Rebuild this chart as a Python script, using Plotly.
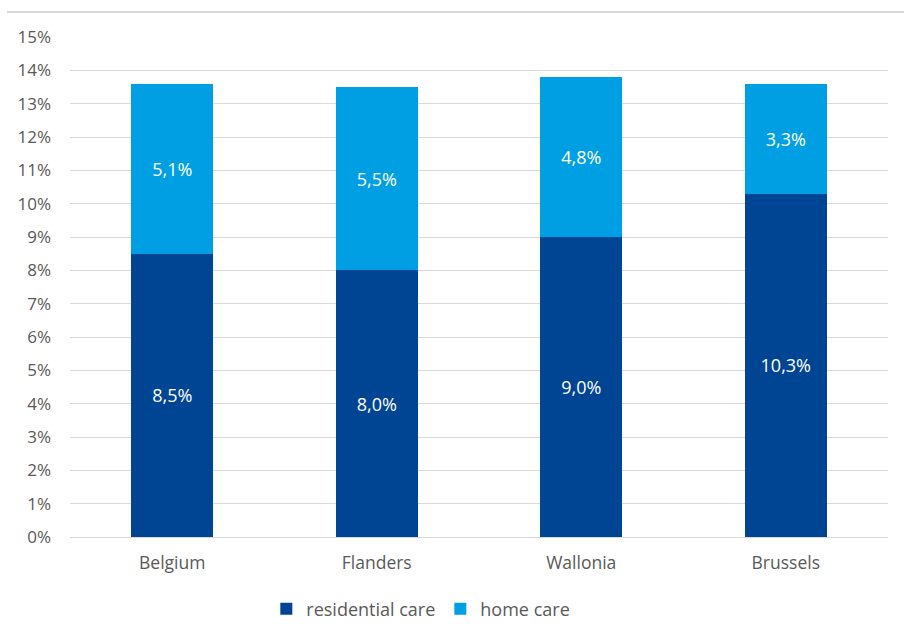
import plotly.graph_objects as go

regions = ["Belgium", "Flanders", "Wallonia", "Brussels"]
residential_care = [8.5, 8.0, 9.0, 10.3]
home_care = [5.1, 5.5, 4.8, 3.3]
y_ticks = list(range(0, 16))
y_tick_labels = [f"{t}%" for t in y_ticks]

def fmt(v):
    return f"{v:.1f}%".replace(".", ",")

FONT = "Open Sans, Liberation Sans, sans-serif"
GRAY = "#595959"

fig = go.Figure()
fig.add_bar(
    x=regions, y=residential_care, name="residential care",
    marker=dict(color="#004494", line=dict(width=0)),
    text=[fmt(v) for v in residential_care], textposition="inside",
    insidetextanchor="middle", textfont=dict(color="white", size=18, family=FONT),
)
fig.add_bar(
    x=regions, y=home_care, name="home care",
    marker=dict(color="#009FE3", line=dict(width=0)),
    text=[fmt(v) for v in home_care], textposition="inside",
    insidetextanchor="middle", textfont=dict(color="white", size=18, family=FONT),
)

fig.update_layout(
    barmode="stack",
    bargap=0.6,
    width=904, height=636,
    margin=dict(l=70, r=16, t=37, b=99, autoexpand=False),
    paper_bgcolor="white", plot_bgcolor="white",
    font=dict(family=FONT, color=GRAY, size=16),
    legend=dict(
        orientation="h", x=0.24, xanchor="left", y=-0.144, yanchor="middle",
        font=dict(size=18, color=GRAY, family=FONT), traceorder="normal",
        itemwidth=30,
    ),
    xaxis=dict(
        showgrid=False, showline=True, linecolor="#d9d9d9", linewidth=1,
        ticks="", tickfont=dict(size=17.5, color=GRAY), ticklabelstandoff=10,
        automargin=False,
    ),
    yaxis=dict(
        range=[0, 15], tickvals=y_ticks, ticktext=y_tick_labels,
        showgrid=True, gridcolor="#d9d9d9", gridwidth=1, zeroline=False,
        ticks="", tickfont=dict(size=17, color=GRAY), ticklabelstandoff=18,
        automargin=False,
    ),
    shapes=[dict(type="line", xref="paper", yref="paper", x0=-0.077, x1=1.02,
                 y0=1.05, y1=1.05, line=dict(color="#d9d9d9", width=2))],
)

fig.write_html(
    "out.html",
    config={"displayModeBar": False},
    post_script="document.body.style.margin='0';document.body.style.padding='0';",
)
